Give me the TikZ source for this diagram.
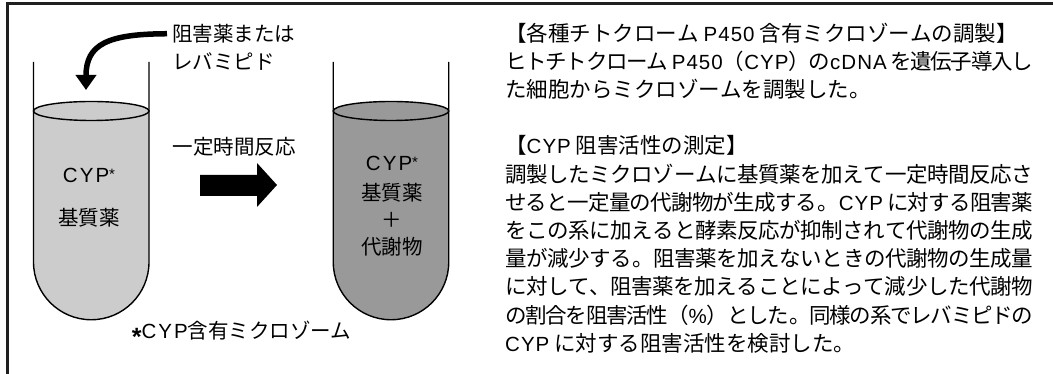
\documentclass[tikz,border=0pt]{standalone}
\usepackage{fontspec}
\usetikzlibrary{arrows.meta}
\setmainfont{Liberation Sans}
\newfontfamily\jpfont{Noto Sans CJK JP}
\newfontfamily\lafont[LetterSpace=10]{Liberation Sans}
\newfontfamily\lbfont[LetterSpace=5]{Liberation Sans}
% Latin words inside the Japanese paragraph
\newcommand\lat[1]{{\lbfont\fontsize{20.5}{28.2}\selectfont #1}}
\newcommand\gap{\hspace{5pt plus 2pt minus 2pt}}
% Latin words in the short labels
\newcommand\latl[1]{{\lafont #1}}
\newcommand\supstar{\raisebox{2.5pt}{\fontsize{15}{15}\selectfont\lafont *}}
\newcommand\notestar{\raisebox{-7pt}{\fontsize{25}{25}\selectfont\lafont\bfseries *}}
% stretchable glue between Japanese characters for justified lines
\XeTeXlinebreaklocale "ja"
\XeTeXlinebreakskip=0pt plus 4pt minus 1.5pt

\definecolor{liquidA}{gray}{0.80}
\definecolor{liquidB}{gray}{0.60}
\definecolor{framec}{gray}{0.12}

\tikzset{
  lbl/.style={inner sep=0pt, font=\jpfont\fontsize{20.5}{23}\selectfont},
  para/.style={inner sep=0pt, anchor=north west, text width=528pt, align=justify,
    font={\jpfont\fontsize{21.5}{28.2}\selectfont\parindent=0pt\parskip=0pt}},
  tubewall/.style={line width=1.4pt, black},
}

\begin{document}
\begin{tikzpicture}[x=1pt,y=1pt]
\useasboundingbox (0,0) rectangle (1053,374);

% frame (top and left edges)
\draw[line width=2.2pt, framec] (7.5,0) -- (7.5,370.5) -- (1053,370.5);

% first tube: liquid, surface, walls
\fill[liquidA] (33.5,263) -- (33.5,112) arc[start angle=180,end angle=360,radius=57.75]
  -- (149,263) arc[start angle=0,end angle=180,x radius=57.75,y radius=9.5] -- cycle;
\draw[tubewall] (91.25,263) ellipse[x radius=57.75,y radius=9.5];
\draw[tubewall] (33.5,312) -- (33.5,112) arc[start angle=180,end angle=360,radius=57.75] -- (149,312);

% second tube
\fill[liquidB] (333.25,263) -- (333.25,112) arc[start angle=180,end angle=360,radius=57.75]
  -- (448.75,263) arc[start angle=0,end angle=180,x radius=57.75,y radius=9.5] -- cycle;
\draw[tubewall] (391,263) ellipse[x radius=57.75,y radius=9.5];
\draw[tubewall] (333.25,312) -- (333.25,112) arc[start angle=180,end angle=360,radius=57.75] -- (448.75,312);

% added drug label and curved arrow into the first tube
\node[lbl, anchor=base west] (add1) at (172,332.5) {阻害薬または};
\node[lbl, anchor=base west] (add2) at (172,304.6) {レバミピド};
\coordinate (drop) at (86,284);
\draw[line width=5.5pt, -{Triangle[width=20pt,length=15pt]}, shorten <=5pt]
  (add1.west) .. controls (108,340) and (86,330) .. (drop);

% reaction step
\node[lbl] (react) at (234,227) {一定時間反応};
\fill (200,199) -- (257,199) -- (257,211) -- (277,189) -- (257,167) -- (257,178) -- (200,178) -- cycle;

% tube contents
\node[lbl] (cypA) at (89,199) {\latl{CYP}\supstar};
\node[lbl] (subA) at (89,156) {基質薬};
\node[lbl] (cypB) at (392,211) {\latl{CYP}\supstar};
\node[lbl] (subB) at (392,181) {基質薬};
\node[lbl] (plus) at (392,154) {＋};
\node[lbl] (metB) at (392,127) {代謝物};

% footnote
\node[lbl] (note) at (241.5,41) {\notestar\latl{CYP}含有ミクロゾーム};

% method description
\node[para] (desc) at (505,352.8) {\strut 【各種チトクローム\gap\lat{P450}\gap 含有ミクロゾームの調製】\par
ヒトチトクローム\gap\lat{P450}（\lat{CYP}）の\lat{cDNA}\gap を遺伝子導入し\linebreak
た細胞からミクロゾームを調製した。\par
\mbox{}\par
【\lat{CYP}\gap 阻害活性の測定】\par
調製したミクロゾームに基質薬を加えて一定時間反応さ\linebreak
せると一定量の代謝物が生成する。\lat{CYP}\gap に対する阻害薬\linebreak
をこの系に加えると酵素反応が抑制されて代謝物の生成\linebreak
量が減少する。阻害薬を加えないときの代謝物の生成量\linebreak
に対して、阻害薬を加えることによって減少した代謝物\linebreak
の割合を阻害活性（\lat{\%}）とした。同様の系でレバミピドの\linebreak
\lat{CYP}\gap に対する阻害活性を検討した。};
\end{tikzpicture}
\end{document}
